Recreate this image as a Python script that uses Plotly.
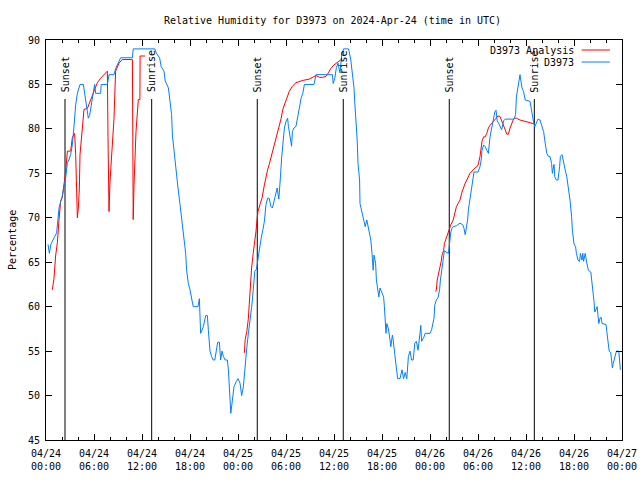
import plotly.graph_objects as go
import pandas as pd

T0 = pd.Timestamp("2024-04-24 00:00")

# Observed D3973 relative humidity (hours since 2024-04-24 00:00 UTC, %)
obs_hours = [0.25, 0.42, 0.6, 0.83, 1.1, 1.33, 1.5, 1.63, 1.83, 2.05, 2.17, 2.46, 2.67, 2.85, 3.08, 3.29, 3.5, 3.71, 3.92, 4.25,
             4.67, 4.83, 5.08, 5.29, 5.45, 5.58, 5.92, 6.08, 6.2, 6.83, 6.9, 7.67, 7.875, 8.5, 8.71, 8.92, 9.33, 10.8, 10.9, 13.6,
             13.8, 14.2, 14.4, 14.75, 14.9, 15.3, 15.5, 15.7, 15.8, 16.0, 16.1, 16.3, 16.5, 16.75, 16.96, 17.17, 17.46, 17.58, 17.79, 18.0,
             18.33, 18.4, 19.0, 19.17, 19.33, 19.67, 19.96, 20.17, 20.3, 20.5, 20.7, 20.9, 21.1, 21.3, 21.46, 21.67, 21.83, 22.0, 22.17, 22.4,
             22.67, 22.8, 22.9, 23.0, 23.1, 23.3, 23.5, 23.8, 24.0, 24.25, 24.46, 24.67, 24.9, 25.1, 25.3, 25.5, 25.7, 25.9, 26.1, 26.3,
             26.5, 26.7, 26.9, 27.1, 27.3, 27.5, 27.7, 27.9, 28.1, 28.3, 28.5, 28.75, 28.9, 29.1, 29.2, 29.3, 29.45, 29.6, 29.7, 29.8,
             30.0, 30.2, 30.3, 30.5, 30.7, 30.8, 31.0, 31.25, 31.5, 31.7, 31.9, 32.1, 32.3, 33.5, 33.75, 35.8, 35.9, 36.1, 36.3, 36.5,
             36.75, 36.96, 37.2, 37.8, 37.9, 38.1, 38.3, 38.5, 38.6, 38.75, 38.9, 39.0, 39.2, 39.25, 39.46, 39.7, 39.9, 40.1, 40.4, 40.6,
             40.75, 40.9, 41.0, 41.2, 41.3, 41.5, 41.6, 41.75, 41.95, 42.2, 42.3, 42.4, 42.5, 42.6, 42.8, 43.0, 43.1, 43.3, 43.4, 43.6,
             43.8, 43.96, 44.25, 44.5, 44.7, 44.9, 45.1, 45.3, 45.5, 45.7, 45.9, 46.1, 46.3, 46.5, 46.75, 46.85, 46.95, 47.2, 47.4, 48.0,
             48.2, 48.3, 48.5, 48.6, 48.8, 49.0, 49.2, 49.3, 49.5, 49.7, 49.8, 50.0, 50.3, 50.4, 50.6, 50.75, 50.9, 51.3, 51.75, 52.1,
             52.25, 52.4, 52.6, 52.7, 52.8, 53.0, 53.2, 53.4, 53.5, 54.0, 54.25, 54.4, 54.5, 54.7, 54.9, 55.1, 55.3, 55.5, 55.7, 55.9,
             56.1, 56.25, 56.4, 56.6, 56.75, 56.95, 57.2, 57.4, 58.5, 58.7, 58.8, 58.96, 59.1, 59.25, 59.35, 59.5, 59.7, 59.9, 60.5, 60.7,
             60.9, 61.1, 61.3, 61.5, 61.75, 61.95, 62.2, 62.4, 62.6, 62.8, 63.0, 63.2, 63.3, 63.5, 63.6, 63.8, 64.0, 64.2, 64.3, 64.5,
             64.7, 64.9, 65.1, 65.3, 65.5, 65.7, 65.8, 66.0, 66.2, 66.3, 66.5, 66.7, 66.8, 67.0, 67.1, 67.2, 67.4, 67.6, 67.8, 68.1,
             68.2, 68.3, 68.5, 68.6, 68.75, 68.9, 69.0, 69.1, 69.25, 69.4, 69.5, 70.0, 70.1, 70.25, 70.4, 70.6, 70.7, 70.8, 70.9, 71.1,
             71.3, 71.6, 71.75, 71.8]
obs_values = [67.0, 66.0, 67.0, 67.5, 67.9, 68.3, 69.7, 71.1, 71.8, 72.5, 73.2, 74.5, 76.2, 76.5, 77.1, 78.2, 80.3, 82.7, 84.0, 85.0,
              85.0, 84.0, 82.3, 81.2, 81.5, 82.3, 84.0, 85.0, 84.0, 84.0, 85.0, 85.0, 86.1, 86.1, 86.8, 87.2, 88.0, 88.0, 89.0, 89.0,
              88.5, 88.0, 87.0, 86.5, 85.4, 84.6, 83.3, 81.6, 79.3, 77.5, 76.4, 74.8, 73.35, 71.5, 69.75, 67.9, 66.0, 64.1, 62.6, 61.9,
              60.6, 60.0, 60.0, 60.9, 57.0, 57.75, 59.0, 59.0, 57.3, 55.0, 54.4, 54.0, 54.0, 55.5, 56.0, 56.0, 54.0, 55.0, 54.4, 54.0,
              54.0, 52.9, 51.0, 49.5, 48.0, 49.5, 51.0, 51.6, 51.9, 51.4, 50.0, 51.0, 53.6, 55.4, 57.0, 58.3, 59.9, 61.8, 64.0, 64.2,
              65.5, 67.0, 67.7, 68.6, 69.6, 71.5, 72.2, 72.2, 71.3, 71.1, 71.85, 72.6, 73.35, 72.1, 74.1, 74.5, 76.7, 77.85, 79.0, 80.1,
              80.85, 81.2, 80.3, 79.0, 78.05, 79.7, 80.1, 80.3, 81.6, 82.7, 83.5, 84.0, 85.0, 85.0, 86.1, 86.1, 85.1, 85.7, 86.9, 87.4,
              86.3, 88.3, 89.0, 89.0, 88.7, 87.75, 86.25, 84.6, 82.9, 81.0, 78.75, 76.1, 74.25, 71.6, 70.7, 69.75, 69.0, 69.75, 68.6, 67.5,
              66.0, 64.1, 65.8, 64.9, 63.0, 61.9, 61.1, 62.1, 61.7, 61.1, 60.0, 57.9, 57.0, 58.1, 57.5, 56.25, 55.5, 56.8, 56.25, 54.6,
              53.4, 51.9, 51.9, 52.9, 51.9, 52.6, 51.9, 54.4, 55.0, 54.0, 54.0, 55.9, 56.1, 55.1, 57.0, 57.9, 56.1, 56.5, 57.0, 57.0,
              57.4, 57.75, 58.7, 60.2, 60.75, 61.0, 61.9, 63.0, 64.5, 65.6, 66.3, 66.15, 66.0, 66.75, 68.4, 68.8, 69.0, 69.1, 69.4, 69.2,
              68.8, 68.1, 69.2, 69.75, 70.9, 72.0, 73.1, 74.6, 75.15, 75.15, 75.75, 76.5, 77.6, 78.2, 78.0, 77.6, 77.25, 79.1, 80.2, 80.8,
              81.9, 82.1, 80.9, 80.6, 80.2, 79.9, 80.9, 81.1, 81.1, 81.6, 83.6, 84.7, 85.5, 86.1, 85.5, 84.6, 84.2, 83.25, 83.1, 81.9,
              81.0, 80.25, 80.8, 81.1, 81.0, 80.4, 79.7, 78.4, 77.25, 76.9, 76.9, 76.1, 75.0, 76.0, 74.6, 74.25, 74.25, 75.75, 76.9, 77.1,
              76.1, 75.4, 74.6, 73.5, 72.0, 70.1, 68.6, 67.05, 66.75, 66.0, 65.25, 65.1, 66.0, 65.25, 66.0, 65.1, 66.0, 64.9, 64.1, 63.9,
              63.2, 61.9, 60.6, 59.4, 59.8, 60.0, 59.0, 58.1, 58.7, 58.8, 58.1, 58.0, 57.2, 55.7, 55.0, 54.8, 53.6, 53.1, 53.6, 54.4,
              55.0, 55.0, 53.25, 52.9]

# D3973 Analysis, three night-time segments
ana1_hours = [0.79, 1.0, 1.2, 1.42, 1.63, 1.83, 2.04, 2.25, 2.46, 2.67, 3.08, 3.29, 3.58, 3.71, 3.79, 3.92, 4.04, 4.17, 4.25, 4.42,
              4.63, 4.75, 5.17, 5.58, 6.0, 6.42, 6.83, 7.25, 7.67, 7.75, 7.875, 8.0, 8.2, 8.375, 8.5, 8.7, 9.13, 9.54, 10.8, 10.85,
              10.9, 11.0, 11.13, 11.25, 11.54, 11.74, 11.76, 12.4]
ana1_values = [61.9, 63.2, 65.7, 67.2, 69.8, 71.85, 72.3, 73.7, 75.2, 77.5, 77.5, 79.0, 79.5, 77.1, 72.6, 70.0, 71.1, 73.35, 77.1, 79.0,
               81.2, 82.2, 82.3, 83.3, 84.2, 85.2, 85.7, 86.1, 86.5, 79.0, 70.7, 74.1, 76.7, 79.0, 81.2, 86.5, 87.4, 87.8, 87.8, 79.0,
               69.8, 73.7, 76.4, 79.7, 83.3, 83.3, 88.2, 88.2]
ana2_hours = [24.8, 24.9, 25.1, 25.3, 25.4, 25.5, 25.7, 25.9, 26.1, 26.25, 26.4, 26.5, 26.75, 27.0, 27.3, 27.5, 27.7, 27.9, 28.1, 28.3,
              28.5, 28.75, 28.9, 29.2, 29.4, 29.6, 29.8, 30.0, 30.4, 30.8, 31.25, 32.1, 32.9, 33.75, 34.2, 34.6, 35.0, 35.3, 35.6, 36.0,
              36.3, 36.6, 36.9]
ana2_values = [54.8, 56.3, 57.2, 58.7, 60.2, 61.7, 64.35, 66.0, 67.2, 68.5, 70.0, 70.7, 71.5, 72.2, 73.7, 74.8, 75.4, 76.0, 76.7, 77.5,
               78.2, 78.8, 79.5, 80.7, 81.2, 82.2, 82.7, 83.3, 84.2, 84.8, 85.2, 85.45, 85.6, 86.0, 85.8, 85.8, 85.9, 86.3, 86.8, 87.2,
               87.4, 87.6, 87.8]
ana3_hours = [48.7, 48.8, 48.9, 49.1, 49.25, 49.4, 49.5, 49.7, 49.8, 50.0, 50.2, 50.4, 50.6, 50.9, 51.1, 51.3, 51.5, 51.75, 51.95, 52.2,
              52.4, 52.6, 52.8, 53.0, 53.4, 53.8, 54.0, 54.25, 54.5, 54.7, 54.9, 55.1, 55.3, 55.5, 55.7, 55.9, 56.1, 56.3, 56.5, 56.75,
              56.95, 57.2, 57.4, 57.6, 57.8, 58.0, 58.2, 58.4, 58.6, 58.8, 59.25, 60.1, 60.9, 61.1]
ana3_values = [61.7, 61.9, 63.0, 63.75, 64.5, 65.1, 65.8, 66.3, 67.1, 67.6, 68.25, 68.8, 69.2, 69.75, 70.5, 71.25, 71.6, 72.0, 72.75, 73.5,
               73.9, 74.25, 74.6, 75.0, 75.4, 75.75, 75.9, 76.9, 78.6, 79.1, 79.1, 79.5, 80.1, 80.4, 80.6, 80.8, 81.0, 81.2, 81.45, 81.4,
               81.0, 80.4, 79.9, 79.4, 79.4, 80.1, 80.6, 81.0, 81.2, 81.2, 81.0, 80.8, 80.6, 80.55]

# Sunset / sunrise event times (hours since start)
event_hours = [2.375, 13.21, 26.41, 37.16, 50.41, 61.04]
event_labels = ["Sunset", "Sunrise", "Sunset", "Sunrise", "Sunset", "Sunrise"]

# X tick labels
tick_hours = [0, 6, 12, 18, 24, 30, 36, 42, 48, 54, 60, 66, 72]
tick_dates = ["04/24", "04/24", "04/24", "04/24", "04/25", "04/25", "04/25", "04/25", "04/26", "04/26", "04/26", "04/26", "04/27"]
tick_times = ["00:00", "06:00", "12:00", "18:00", "00:00", "06:00", "12:00", "18:00", "00:00", "06:00", "12:00", "18:00", "00:00"]
minor_tick_hours = [2, 4, 8, 10, 14, 16, 20, 22, 26, 28, 32, 34, 38, 40, 44, 46, 50, 52, 56, 58, 62, 64, 68, 70]

RED = "#ff0000"
BLUE = "#0080ff"
FONT = "DejaVu Sans Mono"

FIG_W, FIG_H = 640, 480


def to_dt(hours):
    return [T0 + pd.Timedelta(hours=h) for h in hours]


fig = go.Figure()

# event lines
for h in event_hours:
    fig.add_trace(go.Scatter(x=to_dt([h, h]), y=[45, 83.36], mode="lines",
                             line=dict(color="black", width=1), hoverinfo="skip", showlegend=False))

for hrs, vals in [(ana1_hours, ana1_values), (ana2_hours, ana2_values), (ana3_hours, ana3_values)]:
    fig.add_trace(go.Scatter(x=to_dt(hrs), y=vals, mode="lines", line=dict(color=RED, width=1),
                             name="D3973 Analysis", showlegend=False))

fig.add_trace(go.Scatter(x=to_dt(obs_hours), y=obs_values, mode="lines", line=dict(color=BLUE, width=1),
                         name="D3973", showlegend=False))

annotations = []
for h, lab in zip(event_hours, event_labels):
    annotations.append(dict(x=to_dt([h])[0], y=84.0, xref="x", yref="y", text=lab, textangle=-90,
                            showarrow=False, xanchor="center", yanchor="bottom",
                            font=dict(family=FONT, size=10, color="black"), borderpad=0))

# manual gnuplot-style legend (text right-aligned, sample on right)
leg_items = [("D3973 Analysis", RED, 0.975), ("D3973", BLUE, 0.945)]
shapes = []
for text, col, yp in leg_items:
    annotations.append(dict(x=0.9185, y=yp, xref="paper", yref="paper", text=text, showarrow=False,
                            xanchor="right", yanchor="middle", font=dict(family=FONT, size=10, color="black"),
                            borderpad=0))
    shapes.append(dict(type="line", xref="paper", yref="paper", x0=0.930, x1=0.979, y0=yp, y1=yp,
                       line=dict(color=col, width=1)))

annotations.append(dict(x=-0.059, y=0.5, xref="paper", yref="paper", text="Percentage", textangle=-90,
                        showarrow=False, xanchor="center", yanchor="middle",
                        font=dict(family=FONT, size=10, color="black")))

fig.update_layout(
    width=FIG_W, height=FIG_H,
    margin=dict(l=46, r=18, t=40, b=40, autoexpand=False),
    paper_bgcolor="white", plot_bgcolor="white",
    font=dict(family=FONT, size=10, color="black"),
    title=dict(text="Relative Humidity for D3973 on 2024-Apr-24 (time in UTC)", x=332.5 / FIG_W, xanchor="center",
               y=1 - 20.5 / FIG_H, yanchor="middle", font=dict(family=FONT, size=10, color="black")),
    showlegend=False,
    hovermode=False,
    annotations=annotations,
    shapes=shapes,
)

fig.update_xaxes(
    type="date",
    range=[T0, T0 + pd.Timedelta(hours=72)],
    tickmode="array",
    tickvals=to_dt(tick_hours),
    ticktext=[d + "<br>" + t for d, t in zip(tick_dates, tick_times)],
    ticks="inside", ticklen=6, tickcolor="black", tickwidth=1,
    minor=dict(ticks="inside", ticklen=3, tickcolor="black", tickmode="array",
               tickvals=to_dt(minor_tick_hours)),
    showline=True, linecolor="black", linewidth=1, mirror="allticks",
    showgrid=False, zeroline=False, automargin=False,
    ticklabelstandoff=4,
    tickfont=dict(family=FONT, size=10, color="black"),
)
fig.update_yaxes(
    range=[45, 90], dtick=5, tick0=45,
    ticks="inside", ticklen=6, tickcolor="black", tickwidth=1,
    showline=True, linecolor="black", linewidth=1, mirror="allticks",
    showgrid=False, zeroline=False, automargin=False,
    ticklabelstandoff=3,
    tickfont=dict(family=FONT, size=10, color="black"),
)

# remove the browser's default 8px page margin so the 640x480 figure fills the window exactly
fig.write_html("out.html", config={"displayModeBar": False, "staticPlot": True},
               post_script="document.body.style.margin='0px';document.body.style.overflow='hidden';")
